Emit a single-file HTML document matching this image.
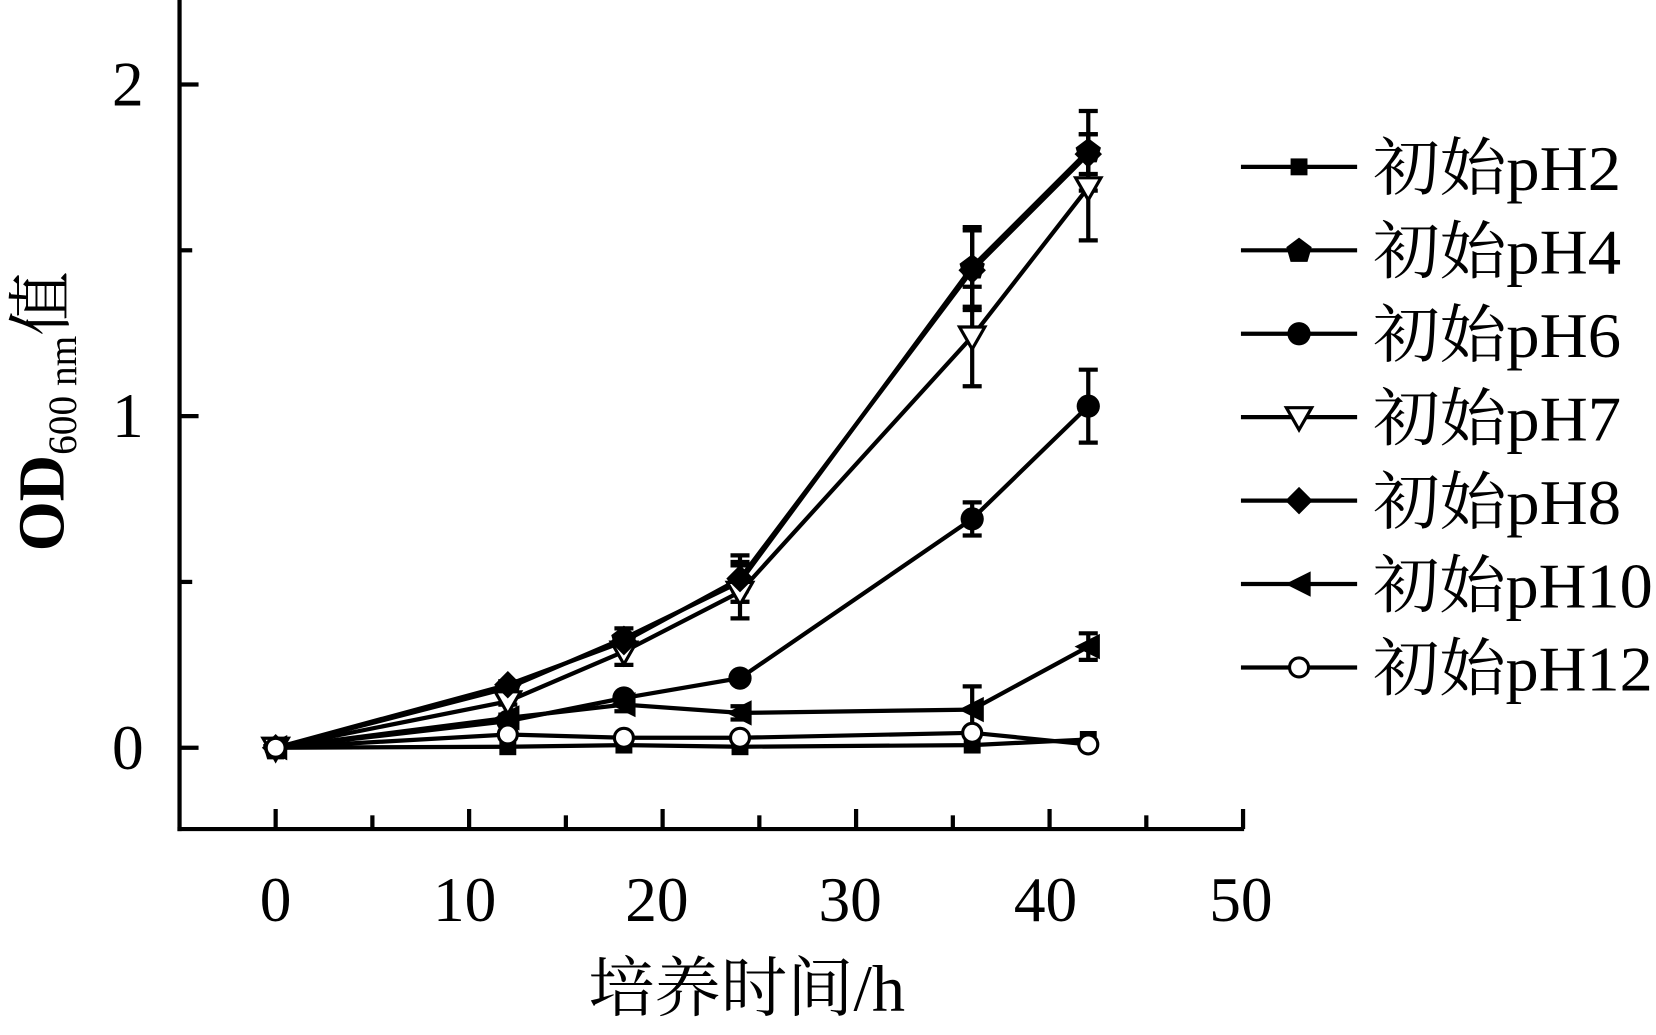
<!DOCTYPE html>
<html><head><meta charset="utf-8"><style>
html,body{margin:0;padding:0;background:#fff;width:1656px;height:1035px;overflow:hidden}
svg{display:block}
text{font-family:"Liberation Serif","Noto Serif CJK SC","Noto Sans CJK SC",serif;fill:#000}
</style></head><body>
<svg id="s" width="1656" height="1035" viewBox="0 0 1568 980" preserveAspectRatio="none" xmlns="http://www.w3.org/2000/svg">
<g stroke="#000" stroke-width="4" fill="none">
<line x1="170" y1="0" x2="170" y2="787"/>
<line x1="168" y1="785" x2="1178" y2="785"/>
</g>
<g id="ticks" stroke="#000" stroke-width="4"></g>
<g font-size="60">
<text x="261" y="872" text-anchor="middle">0</text>
<text x="440" y="872" text-anchor="middle">10</text>
<text x="622" y="872" text-anchor="middle">20</text>
<text x="805" y="872" text-anchor="middle">30</text>
<text x="990" y="872" text-anchor="middle">40</text>
<text x="1175" y="872" text-anchor="middle">50</text>
<text x="136" y="728" text-anchor="end">0</text>
<text x="136" y="414" text-anchor="end">1</text>
<text x="136" y="100" text-anchor="end">2</text>
</g>
<text x="557" y="957" font-size="62" textLength="300" lengthAdjust="spacingAndGlyphs">培养时间/h</text>
<text transform="translate(60,522) rotate(-90)" font-size="62" textLength="265" lengthAdjust="spacingAndGlyphs"><tspan font-weight="bold">OD</tspan><tspan font-size="38" dy="12">600 nm</tspan><tspan dy="-12">值</tspan></text>
<g id="plot"></g>
<g id="leg" font-size="60"></g>
</svg>
<script>
var NS="http://www.w3.org/2000/svg";
function el(p,t,a){var e=document.createElementNS(NS,t);for(var k in a)e.setAttribute(k,a[k]);p.appendChild(e);return e;}
var tk=document.getElementById('ticks');
for(var i=0;i<=10;i++){var x=261+i*91.6;el(tk,'line',{x1:x,y1:785,x2:x,y2:i%2?772:766});}
[[708,18],[551,12],[394,18],[237,12],[80,18]].forEach(function(a){el(tk,'line',{x1:170,y1:a[0],x2:170+a[1],y2:a[0]});});
function X(h){return 261+h*18.32}function Y(v){return 708-v*314}
var hs=[0,12,18,24,36,42];
var S=[
 {m:'sq',d:[0,0.003,0.008,0.003,0.008,0.025],e:[0,0,0,0,0,0]},
 {m:'pent',d:[0,0.18,0.33,0.5,1.45,1.8],e:[0,0.02,0.03,0.06,0.12,0.12]},
 {m:'circ',d:[0,0.08,0.15,0.21,0.69,1.03],e:[0,0,0.01,0.01,0.05,0.11]},
 {m:'tri',d:[0,0.14,0.29,0.47,1.24,1.69],e:[0,0.01,0.04,0.08,0.15,0.16]},
 {m:'dia',d:[0,0.19,0.32,0.51,1.44,1.79],e:[0,0.01,0.02,0.07,0.12,0.06]},
 {m:'left',d:[0,0.09,0.13,0.105,0.115,0.305],e:[0,0.01,0.02,0.02,0.07,0.04]},
 {m:'open',d:[0,0.04,0.03,0.03,0.045,0.01],e:[0,0,0,0,0,0]}
];
function mark(g,m,x,y){
 if(m=='sq')el(g,'rect',{x:x-8,y:y-8,width:16,height:16,fill:'#000'});
 else if(m=='circ')el(g,'circle',{cx:x,cy:y,r:11,fill:'#000'});
 else if(m=='open')el(g,'circle',{cx:x,cy:y,r:9,fill:'#fff',stroke:'#000','stroke-width':3});
 else if(m=='dia')el(g,'polygon',{points:[x,y-13,x+13,y,x,y+13,x-13,y].join(' '),fill:'#000'});
 else if(m=='pent')el(g,'polygon',{points:[x,y-12,x+12,y-3,x+8,y+11,x-8,y+11,x-12,y-3].join(' '),fill:'#000'});
 else if(m=='tri')el(g,'polygon',{points:[x-12,y-9,x+12,y-9,x,y+12].join(' '),fill:'#fff',stroke:'#000','stroke-width':3});
 else if(m=='left')el(g,'polygon',{points:[x-13,y,x+11,y-12,x+11,y+12].join(' '),fill:'#000'});
}
var P=document.getElementById('plot');
S.forEach(function(s){
 var pts=hs.map(function(h,i){return X(h)+','+Y(s.d[i])}).join(' ');
 el(P,'polyline',{points:pts,fill:'none',stroke:'#000','stroke-width':4});
 hs.forEach(function(h,i){if(s.e[i]>0.005){var x=X(h),y1=Y(s.d[i]+s.e[i]),y2=Y(s.d[i]-s.e[i]);
  el(P,'line',{x1:x,y1:y1,x2:x,y2:y2,stroke:'#000','stroke-width':4});
  el(P,'line',{x1:x-9,y1:y1,x2:x+9,y2:y1,stroke:'#000','stroke-width':4});
  el(P,'line',{x1:x-9,y1:y2,x2:x+9,y2:y2,stroke:'#000','stroke-width':4});}});
});
S.forEach(function(s){hs.forEach(function(h,i){mark(P,s.m,X(h),Y(s.d[i]));});});
var L=document.getElementById('leg');
var names=['初始pH2','初始pH4','初始pH6','初始pH7','初始pH8','初始pH10','初始pH12'];
var widths=[235,235,235,235,235,265,265];
S.forEach(function(s,i){var y=158+i*79;
 el(L,'line',{x1:1175,y1:y,x2:1285,y2:y,stroke:'#000','stroke-width':4});
 mark(L,s.m,1230,y);
 var t=el(L,'text',{x:1300,y:y+22,textLength:widths[i],lengthAdjust:'spacingAndGlyphs'});t.textContent=names[i];});
</script>
</body></html>
